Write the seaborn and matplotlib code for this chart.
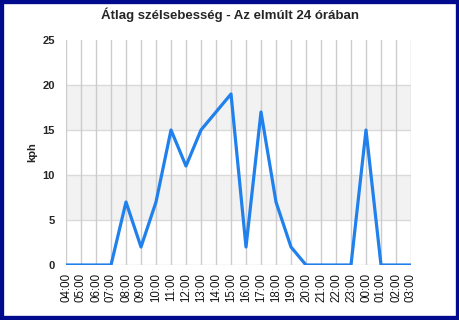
import matplotlib
matplotlib.use("Agg")
import matplotlib.pyplot as plt
import matplotlib.patches as mpatches
import seaborn as sns
import pandas as pd

hours = ["04:00", "05:00", "06:00", "07:00", "08:00", "09:00", "10:00", "11:00",
         "12:00", "13:00", "14:00", "15:00", "16:00", "17:00", "18:00", "19:00",
         "20:00", "21:00", "22:00", "23:00", "00:00", "01:00", "02:00", "03:00"]
speed = [0, 0, 0, 0, 7, 2, 7, 15, 11, 15, 17, 19, 2, 17, 7, 2, 0, 0, 0, 0, 15, 0, 0, 0]
y_ticks = [0, 5, 10, 15, 20, 25]
title = "Átlag szélsebesség - Az elmúlt 24 órában"
ylabel = "kph"

sns.set_style("white")
plt.rcParams['font.family'] = ['Liberation Sans', 'DejaVu Sans']

df = pd.DataFrame({"pos": range(len(hours)), "speed": speed})

fig = plt.figure(figsize=(4.6, 3.2), dpi=100)
ax = fig.add_axes([66/460, 1 - 265/320, (411 - 66)/460, (265 - 40)/320])

# banded background
for lo in (5, 15):
    ax.axhspan(lo, lo + 5, color="#f2f2f2", zorder=0, lw=0)
for yv in y_ticks[:-1]:
    ax.axhline(yv, color="#dadada", lw=1, zorder=1)
for xv in range(len(hours)):
    ax.axvline(xv, color="#cccccc", lw=1, zorder=1)

sns.lineplot(data=df, x="pos", y="speed", ax=ax, color="#2080ec", lw=2.3, zorder=3)

ax.set_xlim(0, len(hours) - 1)
ax.set_ylim(0, 25)
ax.set_xticks(range(len(hours)))
ax.set_xticklabels(hours, rotation=90, fontsize=8.3, color="#111111")
ax.set_yticks(y_ticks)
ax.set_yticklabels([str(v) for v in y_ticks], fontsize=8, fontweight="bold")
ax.tick_params(axis="both", length=0, pad=6)
ax.tick_params(axis="y", pad=8)
for s in ax.spines.values():
    s.set_visible(False)
ax.set_xlabel("")
ax.set_ylabel(ylabel, fontsize=8, fontweight="bold", labelpad=4)
fig.suptitle(title, fontsize=9.5, fontweight="bold", y=0.975)

fig.patches.append(mpatches.Rectangle((0, 0), 1, 1, transform=fig.transFigure,
                                      fill=False, edgecolor="#000a8c", lw=6, zorder=10))

fig.savefig("out.png", dpi=100)
